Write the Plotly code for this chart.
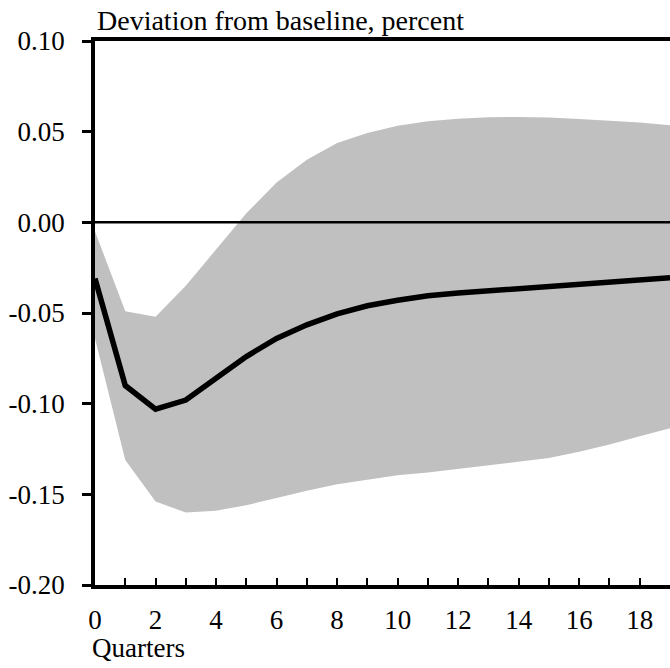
import plotly.graph_objects as go

quarters = list(range(20))
mean_resp = [-0.031, -0.090, -0.103, -0.098, -0.086, -0.074, -0.064, -0.0565, -0.0505, -0.046,
             -0.043, -0.0405, -0.039, -0.0378, -0.0367, -0.0356, -0.0345, -0.0332, -0.0318, -0.0305]
upper_band = [-0.005, -0.049, -0.052, -0.035, -0.015, 0.005, 0.022, 0.0345, 0.0438, 0.0493,
              0.0533, 0.0557, 0.0571, 0.0580, 0.0581, 0.0578, 0.0570, 0.0562, 0.0550, 0.0535]
lower_band = [-0.064, -0.131, -0.154, -0.160, -0.159, -0.156, -0.152, -0.148, -0.1445, -0.142,
              -0.1395, -0.138, -0.136, -0.134, -0.132, -0.130, -0.1265, -0.1225, -0.118, -0.1135]

y_tickvals = [-0.20, -0.15, -0.10, -0.05, 0.00, 0.05, 0.10]
y_ticktext = ["-0.20", "-0.15", "-0.10", "-0.05", "0.00", "0.05", "0.10"]
x_tickvals = list(range(20))
x_ticktext = [str(q) if q % 2 == 0 else "" for q in x_tickvals]

FONT = "Liberation Serif, Times New Roman, serif"
GRAY = "rgb(192,192,192)"

fig = go.Figure()
fig.add_trace(go.Scatter(x=quarters, y=lower_band, mode="lines",
                         line=dict(width=0, color=GRAY), showlegend=False, hoverinfo="skip"))
fig.add_trace(go.Scatter(x=quarters, y=upper_band, mode="lines", fill="tonexty",
                         fillcolor=GRAY, line=dict(width=0, color=GRAY),
                         showlegend=False, hoverinfo="skip"))
fig.add_trace(go.Scatter(x=quarters, y=mean_resp, mode="lines",
                         line=dict(width=5.5, color="black"), showlegend=False))

fig.add_shape(type="line", xref="paper", x0=0, x1=1, yref="y", y0=0, y1=0,
              line=dict(color="black", width=2.5), layer="above")

fig.add_annotation(text="Deviation from baseline, percent", xref="paper", yref="paper",
                   x=0.0, y=1.0, yshift=21, xanchor="left", yanchor="middle",
                   showarrow=False, font=dict(family=FONT, size=28, color="black"))
fig.add_annotation(text="Quarters", xref="paper", yref="paper",
                   x=-0.008, y=0, yshift=-63, xanchor="left", yanchor="middle",
                   showarrow=False, font=dict(family=FONT, size=27, color="black"))

fig.update_layout(
    width=670, height=668,
    margin=dict(l=95, r=0, t=41, b=83),
    paper_bgcolor="white", plot_bgcolor="white",
    font=dict(family=FONT, size=28, color="black"),
    xaxis=dict(range=[0, 19], tickvals=x_tickvals, ticktext=x_ticktext,
               ticks="inside", ticklen=7, tickwidth=2, tickcolor="black",
               showline=True, linewidth=3.5, linecolor="black", mirror=True,
               showgrid=False, zeroline=False, ticklabelstandoff=8,
               tickfont=dict(family=FONT, size=27)),
    yaxis=dict(range=[-0.20, 0.10], tickvals=y_tickvals, ticktext=y_ticktext,
               ticks="outside", ticklen=9, tickwidth=2.5, tickcolor="black",
               showline=True, linewidth=3.5, linecolor="black",
               showgrid=False, zeroline=False, ticklabelstandoff=12,
               tickfont=dict(family=FONT, size=27)),
)

fig.write_html("out.html", config={"displayModeBar": False},
               post_script="document.body.style.margin='0';document.body.style.overflow='hidden';")
